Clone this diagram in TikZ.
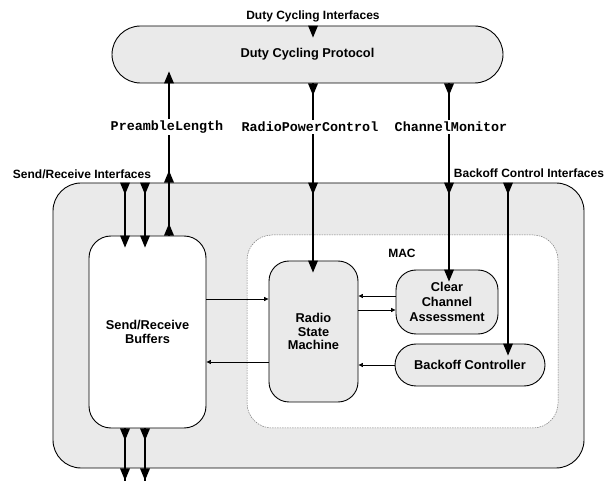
\documentclass[tikz,border=0pt]{standalone}
\usepackage{fontspec}
\setmainfont{Liberation Sans}
\newfontfamily\monofnt{Liberation Mono}
\usetikzlibrary{arrows.meta}
\definecolor{boxgray}{RGB}{234,234,234}
\definecolor{macgray}{RGB}{120,120,120}
\newcommand\tdn[1]{\fill (#1) ++(-5,0) -- ++(10,0) -- ++(-5,12) -- cycle;}
\newcommand\tup[1]{\fill (#1) ++(-5,0) -- ++(10,0) -- ++(-5,-12) -- cycle;}
\begin{document}
\begin{tikzpicture}[x=1pt,y=-1pt,
  blk/.style={draw, line width=0.9pt, fill=boxgray, inner sep=0pt, align=center,
    font=\bfseries\fontsize{12.8}{13.5}\selectfont},
  lbl/.style={font=\bfseries\fontsize{12}{14}\selectfont, inner sep=1pt},
  ifc/.style={font=\monofnt\bfseries\fontsize{13.4}{15}\selectfont, fill=white, inner sep=2pt},
  wire/.style={line width=1.8pt},
  small/.style={line width=0.7pt, -{Triangle[length=4.5pt,width=4pt]}},
]
\useasboundingbox (0,0) rectangle (606,481);
% boxes
\node[blk, minimum width=391pt, minimum height=57pt, rounded corners=28.5pt] (duty) at (307.5,54.5) {Duty Cycling Protocol};
\node[blk, minimum width=531pt, minimum height=285pt, rounded corners=28pt] (outer) at (318.5,325.5) {};
\node[blk, fill=white, minimum width=117pt, minimum height=192pt, rounded corners=22pt] (srb) at (147.5,332) {Send/Receive\\Buffers};
\node[draw=macgray, dash pattern=on 1.5pt off 1pt, line width=0.5pt, fill=white, minimum width=311pt, minimum height=193pt, rounded corners=25pt] (mac) at (402.5,331.5) {};
\node[lbl] (maclbl) at (402,253) {MAC};
\node[blk, minimum width=89pt, minimum height=141pt, rounded corners=20pt] (rsm) at (313.5,331.5) {Radio\\State\\Machine};
\node[blk, minimum width=102pt, minimum height=64pt, rounded corners=20pt, font=\bfseries\fontsize{12.8}{15}\selectfont] (cca) at (447,302) {Clear\\Channel\\Assessment};
\node[blk, minimum width=150pt, minimum height=42pt, rounded corners=21pt] (bc) at (470,365) {Backoff Controller};
% outer labels
\node[lbl] (dci) at (313,16) {Duty Cycling Interfaces};
\node[lbl] (sri) at (82,174) {Send/Receive Interfaces};
\node[lbl] (bci) at (529,173) {Backoff Control Interfaces};
% x positions
\coordinate (xsr1) at (125,0);
\coordinate (xsr2) at (145,0);
\coordinate (xpl) at (169,0);
\coordinate (xrpc) at (313,0);
\coordinate (xcm) at (449,0);
\coordinate (xbc) at (508,0);
\coordinate (bot) at (0,481);
% wires
\draw[wire] (outer.north -| xsr1) -- (srb.north -| xsr1);
\draw[wire] (outer.north -| xsr2) -- (srb.north -| xsr2);
\draw[wire] (srb.south -| xsr1) -- (bot -| xsr1);
\draw[wire] (srb.south -| xsr2) -- (bot -| xsr2);
\draw[wire] (srb.north -| xpl) -- (duty.south -| xpl);
\draw[wire] (duty.south -| xrpc) -- (rsm.north -| xrpc);
\draw[wire] (duty.south -| xcm) -- (cca.north -| xcm);
\draw[wire] (outer.north -| xbc) -- (bc.north -| xbc);
% interface labels
\node[ifc] (pl) at (167,127) {PreambleLength};
\node[ifc] (rpc) at (310,127) {RadioPowerControl};
\node[ifc] (cm) at (451,127) {ChannelMonitor};
% triangles
\tdn{duty.north -| xrpc}
\tup{duty.south -| xpl}
\tup{outer.north -| xpl}
\tup{srb.north -| xpl}
\tdn{duty.south -| xrpc}
\tdn{outer.north -| xrpc}
\tdn{rsm.north -| xrpc}
\tdn{duty.south -| xcm}
\tdn{outer.north -| xcm}
\tdn{cca.north -| xcm}
\tdn{outer.north -| xbc}
\tdn{bc.north -| xbc}
\tdn{outer.north -| xsr1}
\tdn{srb.north -| xsr1}
\tdn{outer.north -| xsr2}
\tdn{srb.north -| xsr2}
\tdn{srb.south -| xsr1}
\tdn{outer.south -| xsr1}
\tdn{srb.south -| xsr2}
\tdn{outer.south -| xsr2}
% small arrows
\coordinate (y1) at (0,299);
\coordinate (y2) at (0,362);
\coordinate (y3) at (0,296);
\coordinate (y4) at (0,310);
\coordinate (y5) at (0,365);
\draw[small] (srb.east |- y1) -- (rsm.west |- y1);
\draw[small] (rsm.west |- y2) -- (srb.east |- y2);
\draw[small] (cca.west |- y3) -- (rsm.east |- y3);
\draw[small] (rsm.east |- y4) -- (cca.west |- y4);
\draw[small] (bc.west |- y5) -- (rsm.east |- y5);
\end{tikzpicture}
\end{document}
